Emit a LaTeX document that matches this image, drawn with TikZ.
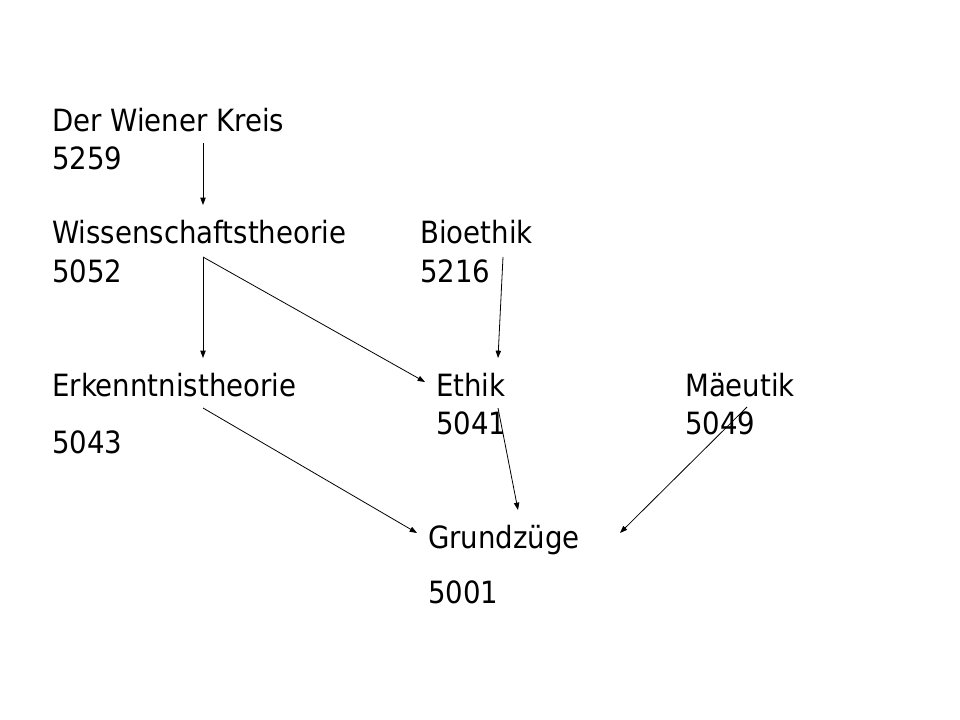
\documentclass[tikz,border=0pt]{standalone}
\usepackage{fontspec}
\setmainfont{DejaVu Sans Condensed}
\usetikzlibrary{arrows.meta,calc}

\begin{document}
\begin{tikzpicture}[
		x=0.75pt, y=-0.75pt,
		every node/.style = {anchor=base west, inner sep=0pt,
			font=\fontsize{23pt}{28pt}\selectfont},
		arr/.style = {line width=0.6pt,
			-{Triangle[length=5.5pt,width=4pt]}}]
		\path[fill=white] (0,0) rectangle (960,720);
		\node (wiener)    at (52,132)  {Der Wiener Kreis};
		\node (wienerNr)  at (52,170)  {5259};
		\node (wiss)      at (52,244)  {Wissenschaftstheorie};
		\node (wissNr)    at (52,282)  {5052};
		\node (bio)       at (420,244) {Bioethik};
		\node (bioNr)     at (420,282) {5216};
		\node (erk)       at (52,396)  {Erkenntnistheorie};
		\node (erkNr)     at (52,453)  {5043};
		\node (ethik)     at (436,396) {Ethik};
		\node (ethikNr)   at (436,434) {5041};
		\node (maeutik)   at (685,396) {Mäeutik};
		\node (maeutikNr) at (685,434) {5049};
		\node (grund)     at (428,548) {Grundzüge};
		\node (grundNr)   at (428,603) {5001};
		\draw[arr] ($(wiener.base west)+(151,11)$) -- ($(wiss.base west)+(151,-39)$);
		\draw[arr] ($(wissNr.base west)+(151,-25)$) -- ($(erk.base west)+(151,-38)$);
		\draw[arr] ($(wissNr.base west)+(151,-25)$) -- ($(ethik.base west)+(-11,-14)$);
		\draw[arr] ($(bioNr.base west)+(83,-25)$) -- ($(ethik.base west)+(62,-38)$);
		\draw[arr] ($(erk.base west)+(151,12)$) -- ($(grund.base west)+(-11,-15)$);
		\draw[arr] ($(ethikNr.base west)+(62,-26)$) -- ($(grund.base west)+(90,-38)$);
		\draw[arr] ($(maeutikNr.base west)+(62,-27)$) -- ($(grund.base west)+(192,-15)$);
\end{tikzpicture}
\end{document}
